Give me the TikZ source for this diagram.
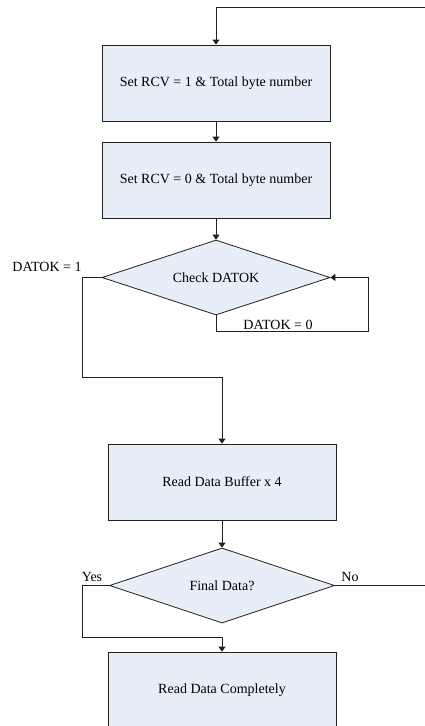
\documentclass[tikz,border=0pt]{standalone}
\usepackage{fontspec}
\setmainfont{Liberation Serif}
\usetikzlibrary{shapes.geometric,arrows.meta}
\definecolor{boxfill}{HTML}{E8EEF8}
\definecolor{linec}{HTML}{202020}
\tikzset{
  procbox/.style={draw=linec, fill=boxfill, line width=0.8pt, minimum width=228pt, minimum height=76pt, inner sep=0pt, font=\fontsize{14}{16}\selectfont},
  decbox/.style={draw=linec, fill=boxfill, line width=0.8pt, diamond, minimum width=228pt, minimum height=75pt, inner sep=0pt, aspect=3, font=\fontsize{14}{16}\selectfont},
  conn/.style={draw=linec, line width=0.8pt},
  arr/.style={conn, -{Triangle[width=7pt,length=5pt]}},
  lbl/.style={inner sep=0pt, font=\fontsize{14}{16}\selectfont},
}
\begin{document}
\begin{tikzpicture}[x=1pt,y=-1pt]
\useasboundingbox (0,0) rectangle (425,726);
\begin{scope}
\clip (0,0) rectangle (425,726);
\node[procbox] (b1) at (216,83) {Set RCV = 1 \& Total byte number};
\node[procbox] (b2) at (216,180) {Set RCV = 0 \& Total byte number};
\node[decbox] (d1) at (216,277.5) {Check DATOK};
\node[procbox] (b3) at (222,482) {Read Data Buffer x 4};
\node[decbox, minimum width=225pt] (d2) at (222,585.5) {Final Data?};
\node[procbox] (b4) at (222,690) {Read Data Completely};

\coordinate (topin) at (425,7);
\coordinate (noout) at (425,585.5);

\draw[arr] (topin) -- (216,7) -- (b1.north);
\draw[arr] (b1) -- (b2);
\draw[arr] (b2) -- (d1.north);
\draw[arr] (d1.south) -- (216,331) -- (368,331) -- (368,277.5) -- (d1.east);
\draw[arr] (d1.west) -- (82,277.5) -- (82,377) -- (222,377) -- (b3.north);
\draw[arr] (b3) -- (d2.north);
\draw[arr] (d2.west) -- (82,585.5) -- (82,637) -- (222,637) -- (b4.north);
\draw[conn] (d2.east) -- (noout);

\node[lbl] (l1) at (47,267) {DATOK = 1};
\node[lbl] (l0) at (278,325) {DATOK = 0};
\node[lbl] (ly) at (92,577) {Yes};
\node[lbl] (ln) at (350,577) {No};
\end{scope}
\end{tikzpicture}
\end{document}
